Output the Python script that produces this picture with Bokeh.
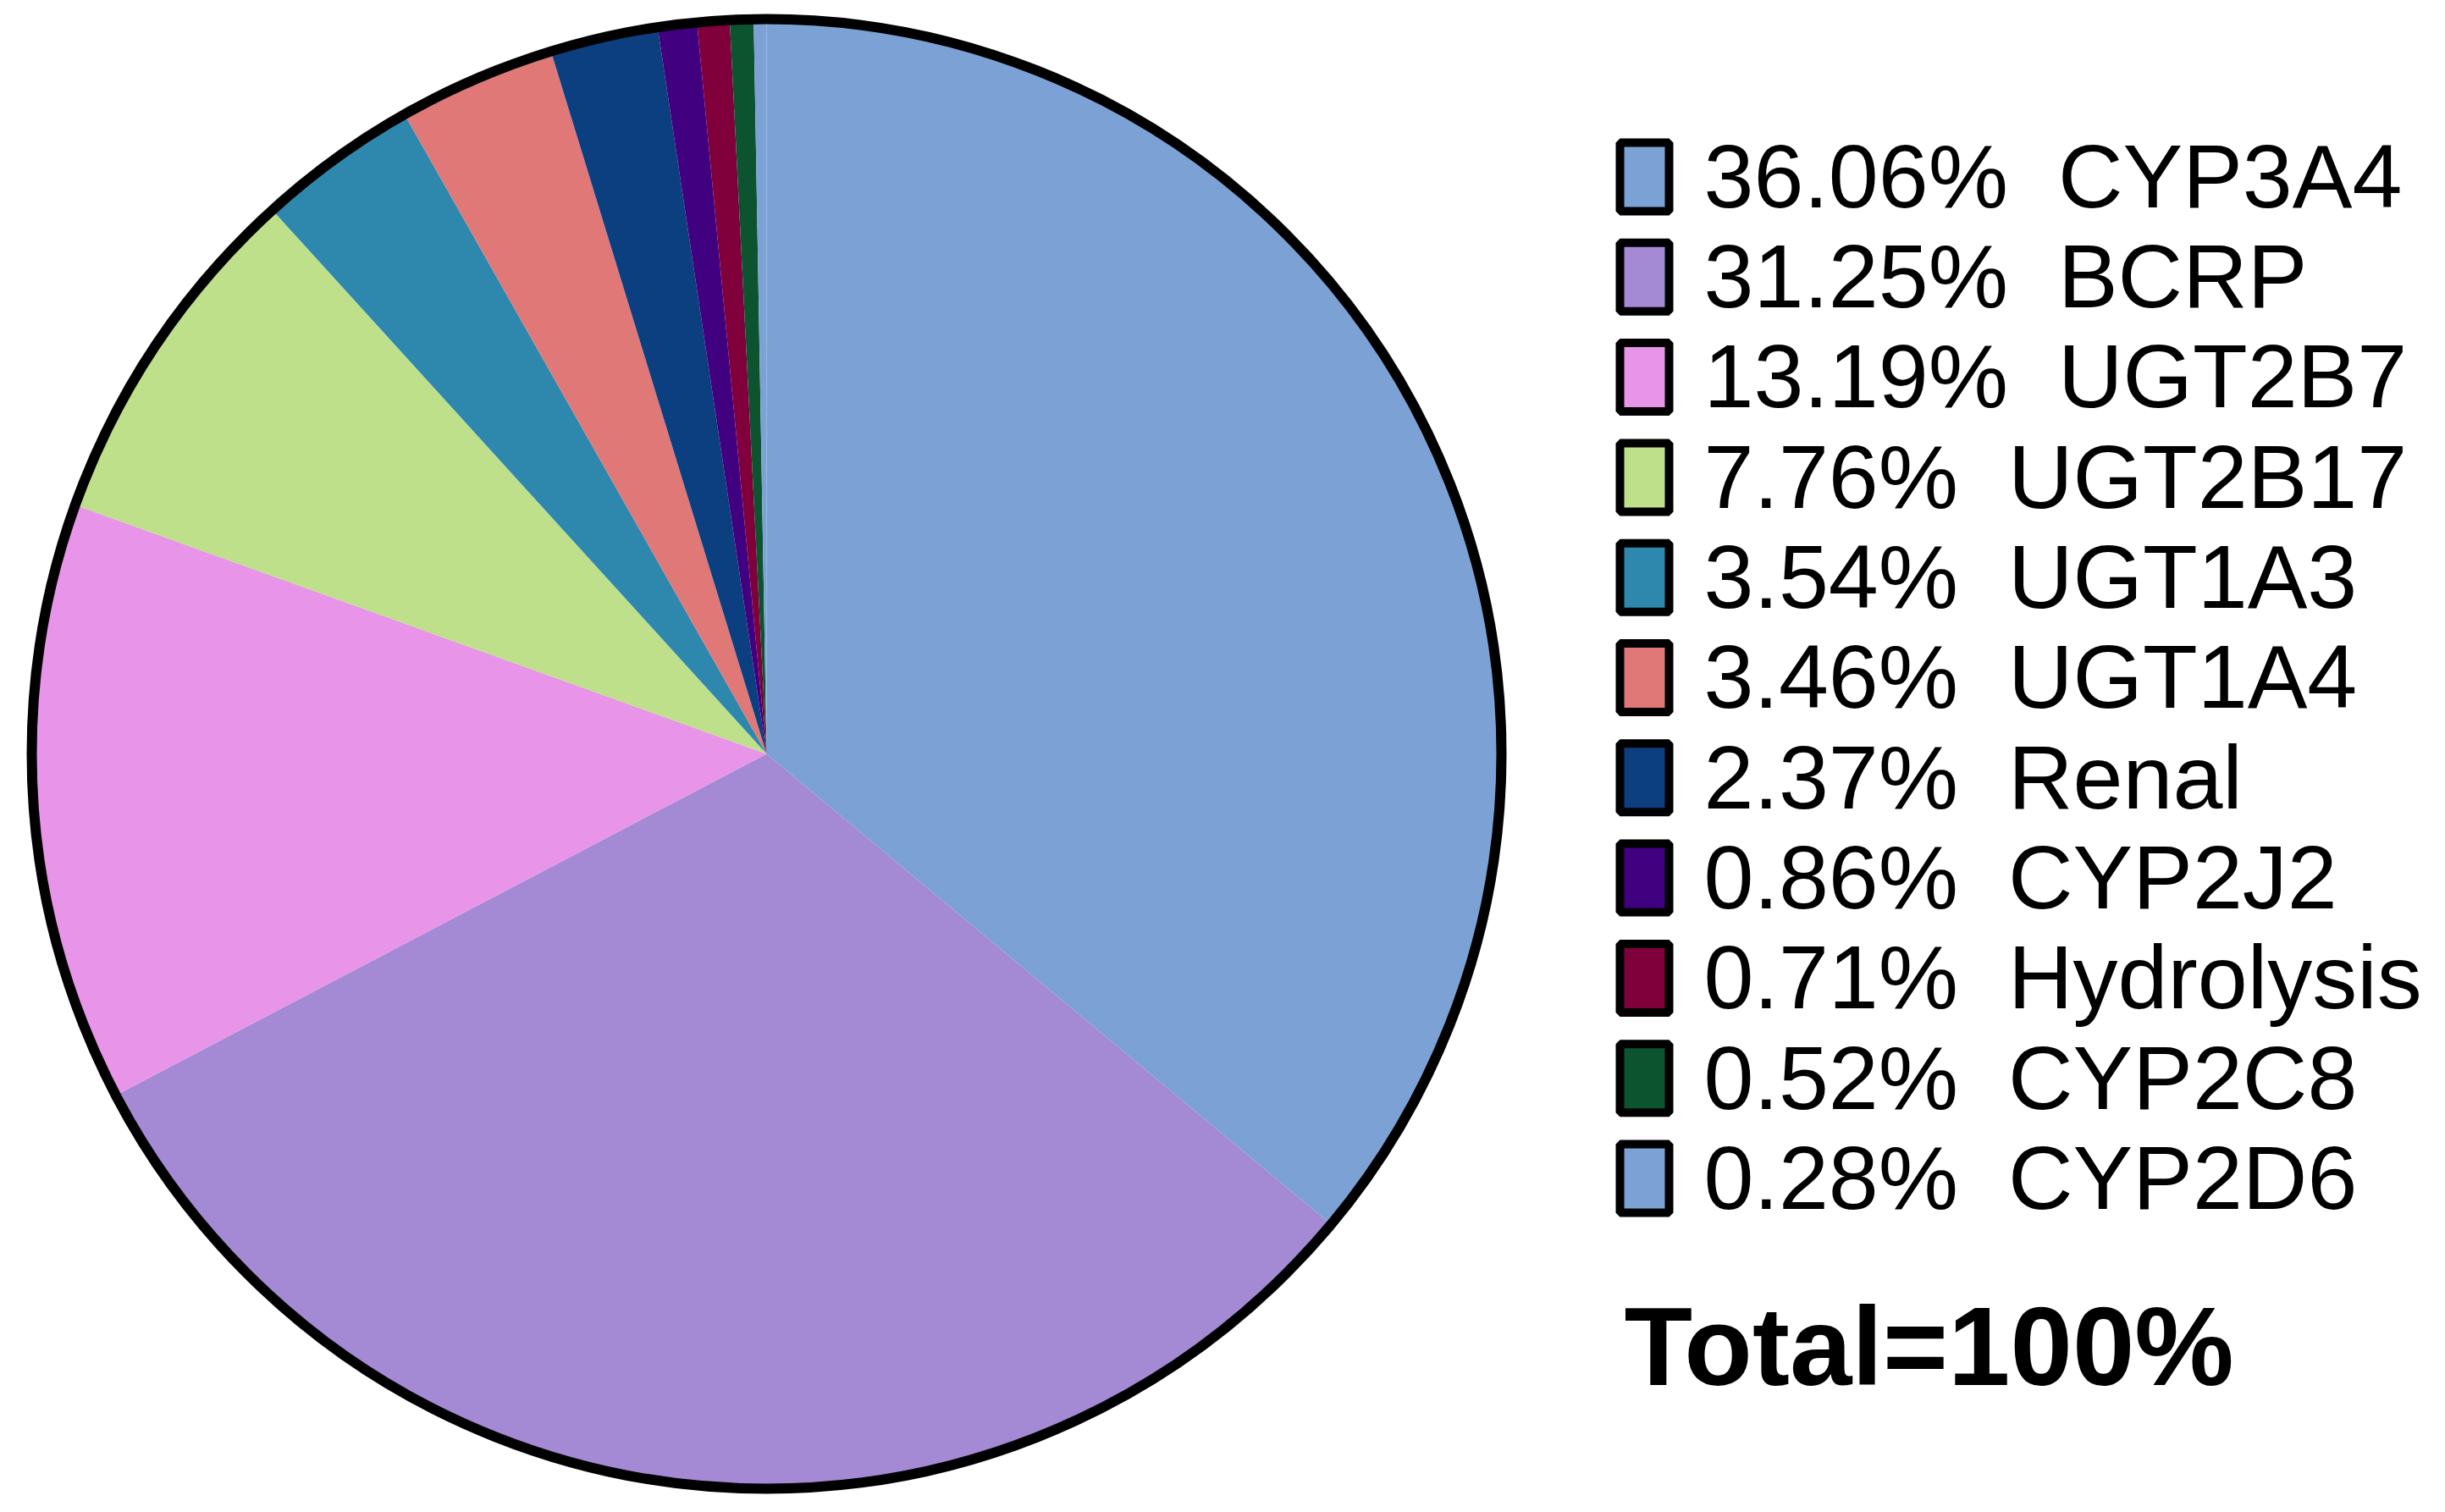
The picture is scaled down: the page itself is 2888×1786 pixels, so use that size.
import math
from bokeh.plotting import figure
from bokeh.models import Range1d, ColumnDataSource
from bokeh.core.properties import value
from bokeh.embed import file_html
from bokeh.resources import INLINE

# ---- data ----
names = ["CYP3A4", "BCRP", "UGT2B7", "UGT2B17", "UGT1A3", "UGT1A4",
         "Renal", "CYP2J2", "Hydrolysis", "CYP2C8", "CYP2D6"]
percents = [36.06, 31.25, 13.19, 7.76, 3.54, 3.46, 2.37, 0.86, 0.71, 0.52, 0.28]
colors = ["#7BA1D5", "#A48AD4", "#E894E8", "#BEE08A", "#2E88AE", "#E07878",
          "#0B3F80", "#400080", "#80003C", "#0C5430", "#7BA1D5"]
total_label = "Total=100%"

W, H = 2880, 1778
p = figure(width=W, height=H, output_backend="svg", toolbar_location=None,
           x_range=Range1d(0, W), y_range=Range1d(0, H),
           min_border=0, min_border_left=0, min_border_right=0,
           min_border_top=0, min_border_bottom=0)
p.axis.visible = False
p.grid.visible = False
p.outline_line_color = None
p.background_fill_color = "white"

# ---- pie ----
cx, cy, r = 905, 888, 868
tot = sum(percents)
starts, ends = [], []
acc = 0.0
for v in percents:
    starts.append(math.pi / 2 - 2 * math.pi * acc / tot)
    acc += v
    ends.append(math.pi / 2 - 2 * math.pi * acc / tot)
src = ColumnDataSource(dict(start=starts, end=ends, color=colors))
p.wedge(x=cx, y=cy, radius=r, start_angle="start", end_angle="end",
        direction="clock", fill_color="color", line_color=None, source=src)
p.circle(x=[cx], y=[cy], radius=r, fill_color=None, line_color="black", line_width=12)

# ---- legend ----
row0, step = 1569.5, 118.3
fs = 106
ys = [row0 - step * i for i in range(len(names))]
p.rect(x=[1942] * len(names), y=ys, width=58, height=81,
       fill_color=colors, line_color="black", line_width=10)
labels = [f"{v:.2f}%\u00a0\u00a0{n}" for v, n in zip(percents, names)]
p.text(x=[2012] * len(names), y=[y - 36.5 + 0.355 * fs for y in ys], text=labels,
       text_font=value("Liberation Sans"), text_font_size=f"{fs}px",
       text_color="black", text_baseline="alphabetic", text_align="left")

fs2 = 132
p.text(x=[1918], y=[141 + 0.355 * fs2], text=[total_label],
       text_font=value("Liberation Sans"), text_font_size=f"{fs2}px",
       text_font_style="bold", text_color="black",
       text_baseline="alphabetic", text_align="left")

open("out.html", "w").write(file_html(p, INLINE))
